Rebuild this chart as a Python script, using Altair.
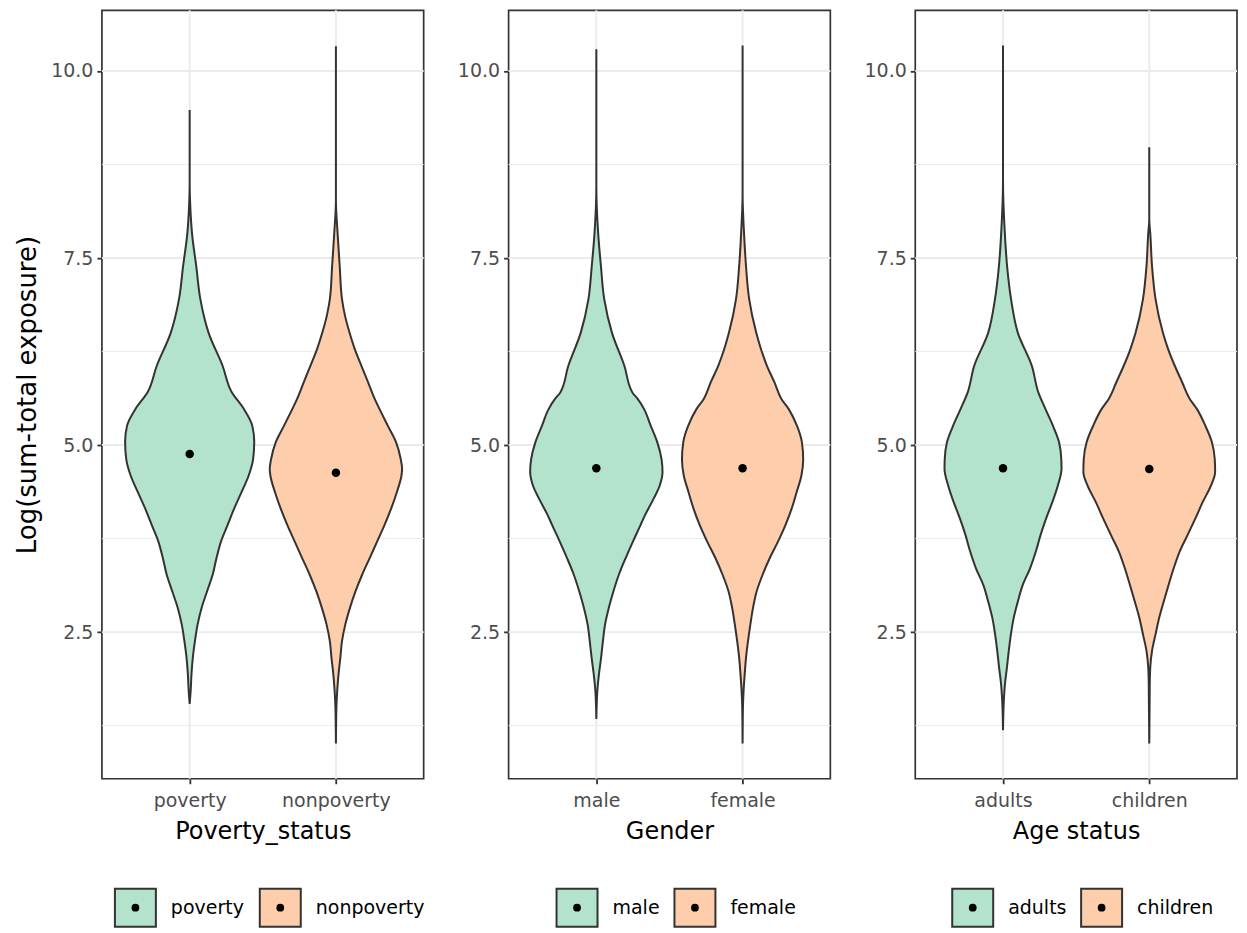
import altair as alt
import pandas as pd

FONT = "DejaVu Sans"
GREEN = "#B3E2CD"
ORANGE = "#FDCDAC"
DARK = "#333333"

# ---------------- data ----------------
titles = ["Poverty_status", "Gender", "Age status"]
categories = [["poverty", "nonpoverty"], ["male", "female"], ["adults", "children"]]
y_title = "Log(sum-total exposure)"

# violin outlines: value on the log scale and full violin width (fraction of category spacing)
poverty_y = [1.54, 1.72, 1.94, 2.16, 2.38, 2.60, 2.82, 3.04, 3.27, 3.49, 3.71, 3.93, 4.15, 4.37,
             4.59, 4.81, 5.04, 5.26, 5.48, 5.71, 6.06, 6.50, 6.95, 7.39, 7.83, 8.20, 8.50, 9.48]
poverty_w = [0.0, 0.014, 0.025, 0.043, 0.072, 0.108, 0.162, 0.236, 0.315, 0.367, 0.428, 0.518, 0.608, 0.709,
             0.806, 0.867, 0.883, 0.856, 0.743, 0.574, 0.450, 0.259, 0.146, 0.090, 0.032, 0.008, 0.0, 0.0]

nonpoverty_y = [1.01, 1.50, 1.72, 1.94, 2.16, 2.38, 2.60, 2.82, 3.04, 3.27, 3.49, 3.71, 3.93, 4.15, 4.37,
                4.59, 4.68, 4.81, 5.04, 5.26, 5.48, 5.62, 5.84, 6.06, 6.28, 6.50, 6.73, 6.95, 7.39, 7.83,
                8.27, 10.33]
nonpoverty_w = [0.0, 0.007, 0.018, 0.036, 0.061, 0.083, 0.128, 0.191, 0.266, 0.360, 0.462, 0.563, 0.664, 0.755,
                0.833, 0.896, 0.905, 0.887, 0.822, 0.709, 0.597, 0.529, 0.439, 0.349, 0.259, 0.187, 0.124,
                0.083, 0.052, 0.023, 0.0, 0.0]

male_y = [1.34, 1.72, 1.94, 2.16, 2.38, 2.60, 2.82, 3.04, 3.27, 3.49, 3.71, 3.93, 4.06, 4.28, 4.46,
          4.64, 4.81, 5.04, 5.26, 5.48, 5.62, 5.70, 6.06, 6.50, 6.95, 7.39, 7.83, 8.45, 10.29]
male_w = [0.0, 0.014, 0.036, 0.065, 0.090, 0.119, 0.169, 0.232, 0.309, 0.401, 0.500, 0.604, 0.664, 0.782,
          0.867, 0.905, 0.892, 0.833, 0.743, 0.653, 0.563, 0.495, 0.383, 0.214, 0.108, 0.063, 0.025, 0.0, 0.0]

female_y = [1.01, 1.50, 1.72, 1.94, 2.16, 2.38, 2.60, 2.82, 3.04, 3.27, 3.49, 3.71, 3.93, 4.15, 4.37,
            4.59, 4.81, 5.04, 5.26, 5.48, 5.62, 5.84, 6.06, 6.28, 6.50, 6.95, 7.39, 7.83, 8.36, 10.34]
female_w = [0.0, 0.005, 0.014, 0.029, 0.047, 0.074, 0.106, 0.142, 0.191, 0.275, 0.372, 0.484, 0.586, 0.671,
            0.739, 0.804, 0.829, 0.811, 0.743, 0.631, 0.529, 0.435, 0.333, 0.252, 0.187, 0.090, 0.047,
            0.020, 0.0, 0.0]

adults_y = [1.19, 1.58, 1.81, 2.03, 2.25, 2.47, 2.69, 2.91, 3.13, 3.35, 3.58, 3.80, 4.02, 4.24, 4.46,
            4.68, 4.81, 5.04, 5.26, 5.48, 5.70, 6.06, 6.50, 6.95, 7.39, 7.83, 8.54, 10.34]
adults_w = [0.0, 0.011, 0.027, 0.054, 0.079, 0.108, 0.146, 0.203, 0.270, 0.369, 0.450, 0.514, 0.590, 0.676,
            0.750, 0.800, 0.797, 0.766, 0.682, 0.581, 0.484, 0.394, 0.203, 0.110, 0.056, 0.025, 0.0, 0.0]

children_y = [1.01, 1.81, 2.03, 2.25, 2.47, 2.69, 2.91, 3.13, 3.35, 3.58, 3.80, 4.02, 4.24, 4.46, 4.64,
              4.81, 5.04, 5.26, 5.48, 5.62, 5.84, 6.06, 6.28, 6.50, 6.95, 7.39, 7.83, 8.01, 8.98]
children_w = [0.0, 0.007, 0.014, 0.038, 0.086, 0.135, 0.198, 0.264, 0.333, 0.417, 0.525, 0.631, 0.732,
              0.845, 0.901, 0.896, 0.856, 0.766, 0.653, 0.552, 0.450, 0.349, 0.259, 0.187, 0.086, 0.038,
              0.014, 0.0, 0.0]

medians = [[4.88, 4.63], [4.69, 4.69], [4.69, 4.68]]

major_y = [2.5, 5.0, 7.5, 10.0]
minor_y = [1.25, 3.75, 6.25, 8.75]

violins = [[(poverty_y, poverty_w), (nonpoverty_y, nonpoverty_w)],
           [(male_y, male_w), (female_y, female_w)],
           [(adults_y, adults_w), (children_y, children_w)]]

# ---------------- layout constants ----------------
PW, PH = 322, 769
Y_DOMAIN = [0.54, 10.81]
X_DOMAIN = [0.4, 2.6]
legend_key_starts_px = [[13, 158], [48, 166], [37, 166]]   # legend key left edges, px from panel left
KEY_W, KEY_H, LABEL_GAP, KEY_TOP = 41, 38, 56, 879

yscale = alt.Scale(domain=Y_DOMAIN, nice=False, zero=False)
xscale = alt.Scale(domain=X_DOMAIN, nice=False, zero=False)


def px_to_x(px):
    return X_DOMAIN[0] + px * (X_DOMAIN[1] - X_DOMAIN[0]) / PW


def make_panel(i):
    cats = categories[i]
    rows = []
    for k, (ys, ws) in enumerate(violins[i]):
        c = k + 1
        for v, w in zip(ys, ws):
            rows.append({"cat": cats[k], "v": v, "lo": c - w / 2, "hi": c + w / 2})
    vdf = pd.DataFrame(rows)
    mdf = pd.DataFrame({"cat": cats, "xc": [1, 2], "v": medians[i]})
    gmaj = pd.DataFrame({"v": major_y})
    gmin = pd.DataFrame({"v": minor_y})
    gx = pd.DataFrame({"xc": [1, 2]})

    label_expr = f"datum.value == 1 ? '{cats[0]}' : '{cats[1]}'"
    xaxis = alt.Axis(values=[1, 2], labelExpr=label_expr, grid=False, domain=False,
                     tickSize=5, tickColor=DARK, tickWidth=1.8,
                     labelColor="#4D4D4D", labelFontSize=19, labelFont=FONT, labelPadding=8,
                     titleFontSize=24, titleFont=FONT, titleColor="black", titleFontWeight="normal",
                     titlePadding=9)
    yaxis_kw = dict(values=major_y, format=".1f", grid=False, domain=False,
                    tickSize=5, tickColor=DARK, tickWidth=1.8,
                    labelColor="#4D4D4D", labelFontSize=19, labelFont=FONT, labelPadding=4)
    if i == 0:
        yaxis = alt.Axis(**yaxis_kw, titleFontSize=26, titleFont=FONT, titleColor="black",
                         titleFontWeight="normal", minExtent=50, maxExtent=50, titlePadding=11)
        ytitle = y_title
    else:
        yaxis = alt.Axis(**yaxis_kw)
        ytitle = None

    def Y(field):
        return alt.Y(f"{field}:Q", scale=yscale, axis=yaxis, title=ytitle)

    def X(field):
        return alt.X(f"{field}:Q", scale=xscale, axis=xaxis, title=titles[i])

    color = alt.Color("cat:N", scale=alt.Scale(domain=cats, range=[GREEN, ORANGE]), legend=None)

    minor = alt.Chart(gmin).mark_rule(color="#EBEBEB", strokeWidth=1.0).encode(y=Y("v"))
    major = alt.Chart(gmaj).mark_rule(color="#EBEBEB", strokeWidth=1.9).encode(y=Y("v"))
    vgrid = alt.Chart(gx).mark_rule(color="#EBEBEB", strokeWidth=1.9).encode(x=X("xc"))
    area = alt.Chart(vdf).mark_area(orient="horizontal", interpolate="monotone", stroke=DARK,
                                    strokeWidth=2.0, opacity=1).encode(
        y=Y("v"), x=X("lo"), x2="hi:Q", color=color, detail="cat:N")
    dots = alt.Chart(mdf).mark_circle(color="black", size=72, opacity=1).encode(x=X("xc"), y=Y("v"))

    # legend drawn below the panel, through the same x scale
    starts = legend_key_starts_px[i]
    ldf = pd.DataFrame({
        "cat": cats,
        "k0": [px_to_x(s) for s in starts],
        "k1": [px_to_x(s + KEY_W) for s in starts],
        "kc": [px_to_x(s + KEY_W / 2) for s in starts],
        "tx": [px_to_x(s + LABEL_GAP) for s in starts],
    })
    keys = alt.Chart(ldf).mark_rect(stroke=DARK, strokeWidth=2.0, opacity=1).encode(
        x=X("k0"), x2="k1:Q",
        y=alt.value(KEY_TOP), y2=alt.value(KEY_TOP + KEY_H), color=color)
    kdots = alt.Chart(ldf).mark_circle(color="black", size=60, opacity=1).encode(
        x=X("kc"), y=alt.value(KEY_TOP + KEY_H / 2))
    ktext = alt.Chart(ldf).mark_text(align="left", baseline="middle", fontSize=19, font=FONT,
                                     color="black").encode(
        x=X("tx"), y=alt.value(KEY_TOP + KEY_H / 2), text="cat:N")

    return alt.layer(minor, major, vgrid, area, dots, keys, kdots, ktext).properties(
        width=PW, height=PH, view=alt.ViewBackground(stroke=DARK, strokeWidth=1.7))


chart = alt.hconcat(make_panel(0), make_panel(1), make_panel(2), spacing=85, bounds="flush").resolve_scale(
    x="independent", y="independent", color="independent").properties(
    padding={"left": 6, "top": 0, "right": 0, "bottom": 0},
    background="white")

chart = chart.configure(font=FONT)

chart.save("out.html", embed_options={"renderer": "svg", "actions": False})
